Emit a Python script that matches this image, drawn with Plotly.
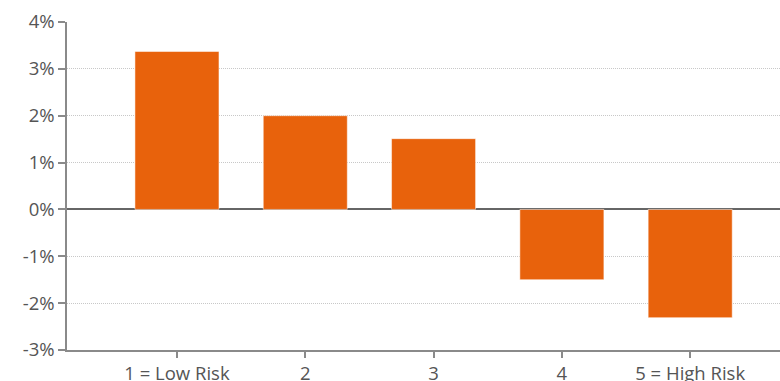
import plotly.graph_objects as go

categories = ["1 = Low Risk", "2", "3", "4", "5 = High Risk"]
values = [3.37, 2.0, 1.51, -1.5, -2.31]
y_ticks = [-3, -2, -1, 0, 1, 2, 3, 4]
y_tick_labels = [f"{v}%" for v in y_ticks]

fig = go.Figure()
fig.add_trace(go.Bar(
    x=list(range(len(categories))),
    y=values,
    width=0.655,
    marker=dict(color="#E8620C", line=dict(color="rgba(255,255,255,0.5)", width=1)),
))

fig.update_layout(
    width=780, height=381,
    margin=dict(l=67, r=0, t=22, b=31),
    paper_bgcolor="white", plot_bgcolor="white",
    showlegend=False,
    font=dict(family="Open Sans", size=18.5, color="#555555"),
)
fig.update_xaxes(
    tickmode="array", tickvals=list(range(len(categories))), ticktext=categories,
    range=[-0.857, 4.70], automargin=False,
    showgrid=False, zeroline=False,
    showline=True, linecolor="#8a8a8a", linewidth=1.5,
    ticks="outside", ticklen=6, tickcolor="#8a8a8a", tickwidth=1.5,
)
fig.update_yaxes(
    tickmode="array", tickvals=y_ticks, ticktext=y_tick_labels,
    range=[-3, 4], automargin=False,
    showgrid=True, gridcolor="#c8c8c8", griddash="1px,1px", gridwidth=1,
    zeroline=True, zerolinecolor="#666666", zerolinewidth=1.5,
    showline=True, linecolor="#8a8a8a", linewidth=1.5,
    ticks="outside", ticklen=7, tickcolor="#8a8a8a", tickwidth=1.5,
)
fig.write_html("out.html")
